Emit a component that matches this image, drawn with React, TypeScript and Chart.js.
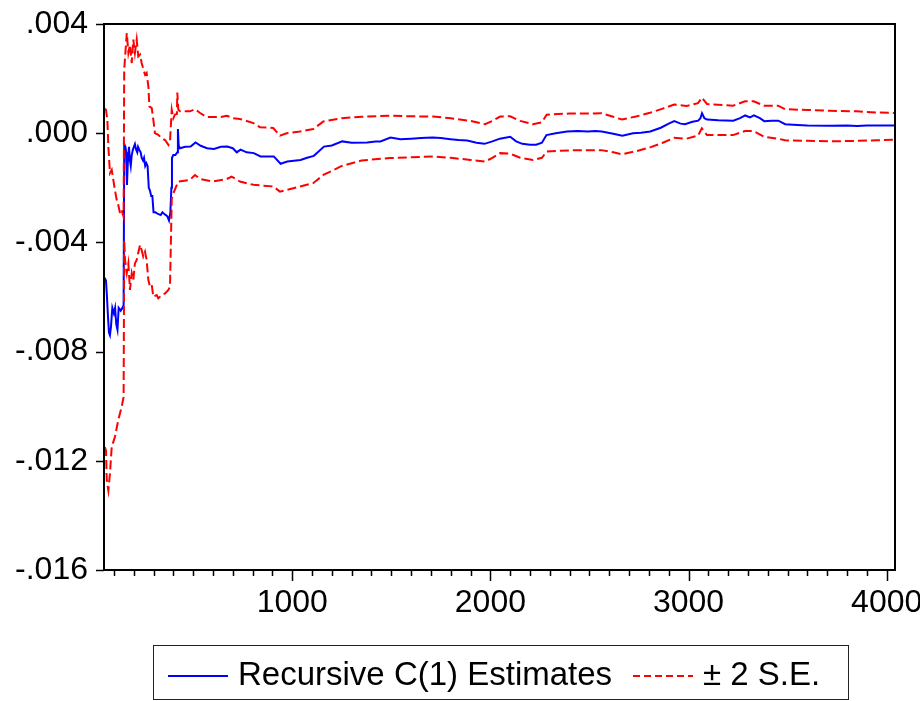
import { useEffect, useRef } from "react";
import { Chart, registerables } from "chart.js";
Chart.register(...registerables);

const xMin = 50;
const xMax = 4042;
const yMin = -0.016;
const yMax = 0.004;
const yTicks = [-0.016, -0.012, -0.008, -0.004, 0, 0.004];
const xMajorTicks = [1000, 2000, 3000, 4000];
const xMinorStep = 100;
const legendLabels = ["Recursive C(1) Estimates", "\u00B1 2 S.E."];

const estObs = [54, 60, 65, 70, 75, 80, 85, 92, 100, 106, 112, 118, 124, 134, 143, 149, 152, 158, 162, 166, 170, 176, 181, 185, 190, 196, 201, 206, 212, 218, 222, 228, 235, 240, 247, 252, 258, 264, 270, 276, 282, 288, 294, 300, 310, 320, 336, 345, 353, 362, 370, 378, 385, 390, 393, 400, 410, 420, 423, 427, 433, 460, 487, 512, 538, 570, 605, 640, 672, 700, 720, 739, 770, 806, 840, 875, 907, 941, 975, 1042, 1075, 1109, 1160, 1200, 1252, 1300, 1378, 1420, 1445, 1496, 1546, 1600, 1650, 1708, 1750, 1798, 1840, 1883, 1930, 1970, 2010, 2048, 2100, 2130, 2161, 2200, 2231, 2260, 2283, 2330, 2387, 2440, 2492, 2530, 2562, 2620, 2666, 2720, 2760, 2807, 2860, 2900, 2928, 2960, 2982, 3020, 3049, 3060, 3068, 3080, 3094, 3150, 3226, 3260, 3286, 3310, 3330, 3360, 3382, 3420, 3453, 3488, 3550, 3600, 3715, 3800, 3850, 3900, 3950, 4000, 4042];
const estVal = [-0.0053, -0.0054, -0.006, -0.0067, -0.0073, -0.0074, -0.0071, -0.0064, -0.0066, -0.0064, -0.007, -0.0072, -0.0064, -0.0065, -0.0064, -0.0063, -0.0004, -0.0005, -0.0007, -0.0019, -0.0011, -0.0005, -0.001, -0.0012, -0.0008, -0.0006, -0.0005, -0.0004, -0.0006, -0.0007, -0.0005, -0.0006, -0.0007, -0.0009, -0.001, -0.0009, -0.0012, -0.0011, -0.0012, -0.002, -0.0021, -0.0023, -0.0023, -0.0029, -0.0029, -0.00295, -0.003, -0.0029, -0.00295, -0.003, -0.00305, -0.0032, -0.0029, -0.002, -0.0009, -0.0008, -0.0008, -0.0007, 0.00015, -0.00045, -0.00055, -0.0005, -0.00049, -0.00034, -0.00046, -0.00055, -0.00058, -0.0005, -0.00049, -0.00055, -0.0007, -0.0006, -0.0007, -0.00073, -0.00085, -0.00085, -0.00085, -0.00112, -0.00104, -0.00098, -0.0009, -0.00083, -0.00049, -0.00045, -0.0003, -0.00035, -0.00034, -0.0003, -0.0003, -0.00016, -0.00022, -0.0002, -0.00018, -0.00016, -0.00018, -0.00022, -0.00025, -0.00027, -0.00035, -0.00039, -0.0003, -0.0002, -0.00013, -0.0003, -0.00039, -0.00042, -0.00042, -0.00035, -0.00007, 0.0, 0.00006, 0.00008, 0.00006, 0.00008, 0.00006, -0.00002, -0.00009, 0.0, 0.00002, 0.00006, 0.0002, 0.00035, 0.00044, 0.00035, 0.00033, 0.00042, 0.00046, 0.00055, 0.00073, 0.00055, 0.0005, 0.00047, 0.00046, 0.00055, 0.00065, 0.00058, 0.00065, 0.00055, 0.00044, 0.00046, 0.00046, 0.00033, 0.0003, 0.00028, 0.00027, 0.00028, 0.00026, 0.00028, 0.00028, 0.00028, 0.00028];

const upperObs = [54, 60, 67, 72, 80, 89, 97, 105, 114, 122, 131, 139, 149, 152, 165, 173, 181, 190, 198, 206, 215, 223, 232, 240, 257, 265, 274, 279, 291, 299, 307, 324, 341, 358, 375, 383, 392, 400, 408, 418, 420, 425, 434, 484, 509, 535, 568, 635, 669, 703, 736, 804, 837, 904, 938, 972, 1039, 1106, 1157, 1250, 1350, 1493, 1600, 1710, 1800, 1900, 1973, 2010, 2049, 2100, 2150, 2215, 2260, 2284, 2400, 2491, 2561, 2620, 2664, 2740, 2806, 2870, 2927, 2990, 3048, 3067, 3093, 3225, 3285, 3329, 3381, 3452, 3487, 3600, 3714, 3850, 3950, 4042];
const upperVal = [0.0009, 0.00086, 0.00049, -0.00049, -0.00146, -0.00134, -0.00171, -0.00208, -0.00244, -0.00263, -0.00293, -0.00281, -0.00306, 0.00233, 0.00367, 0.00294, 0.00324, 0.00257, 0.00343, 0.00294, 0.00343, 0.00281, 0.00288, 0.00257, 0.00214, 0.00221, 0.00171, 0.00098, 0.00092, 0.00049, 0.0, -0.00006, -0.00018, -0.00025, -0.00043, -0.0003, 0.00086, 0.00055, 0.00068, 0.0007, 0.00149, 0.00086, 0.0008, 0.0008, 0.00088, 0.00074, 0.00059, 0.00059, 0.00064, 0.00055, 0.00052, 0.00037, 0.00022, 0.00019, -0.00009, 0.0, 0.00006, 0.00015, 0.00043, 0.00055, 0.0006, 0.00064, 0.00062, 0.00061, 0.00055, 0.00045, 0.00033, 0.00045, 0.00061, 0.00062, 0.00045, 0.00033, 0.0004, 0.00068, 0.00072, 0.00072, 0.00073, 0.0006, 0.0005, 0.00062, 0.00075, 0.0009, 0.00105, 0.001, 0.0011, 0.0013, 0.00107, 0.00101, 0.00117, 0.00117, 0.00101, 0.00101, 0.00088, 0.00085, 0.00082, 0.0008, 0.00076, 0.00074];

const lowerObs = [54, 60, 64, 72, 80, 89, 105, 122, 139, 149, 152, 156, 165, 173, 181, 190, 198, 206, 215, 232, 240, 248, 257, 265, 274, 282, 291, 299, 316, 324, 341, 358, 375, 383, 392, 400, 425, 484, 509, 535, 600, 669, 694, 736, 804, 904, 938, 972, 1039, 1106, 1157, 1250, 1350, 1493, 1600, 1710, 1800, 1900, 1973, 2010, 2049, 2100, 2150, 2215, 2260, 2284, 2400, 2491, 2561, 2620, 2664, 2740, 2806, 2870, 2927, 2990, 3048, 3067, 3093, 3225, 3285, 3329, 3381, 3452, 3487, 3600, 3714, 3850, 3950, 4042];
const lowerVal = [-0.0115, -0.01162, -0.01272, -0.01309, -0.01247, -0.01149, -0.01113, -0.01051, -0.01003, -0.00966, -0.00391, -0.00464, -0.00513, -0.00477, -0.00574, -0.00513, -0.00538, -0.00477, -0.00464, -0.00409, -0.00428, -0.00452, -0.00434, -0.00464, -0.00538, -0.00562, -0.00556, -0.00599, -0.00593, -0.00605, -0.00593, -0.00587, -0.00574, -0.00562, -0.0024, -0.0022, -0.00177, -0.00171, -0.00153, -0.00168, -0.00177, -0.00168, -0.00159, -0.00177, -0.00189, -0.00195, -0.00214, -0.00208, -0.00195, -0.00183, -0.00153, -0.0012, -0.001, -0.00091, -0.00088, -0.00085, -0.0009, -0.00098, -0.00104, -0.0009, -0.00073, -0.00075, -0.0009, -0.00098, -0.0009, -0.00067, -0.00063, -0.00062, -0.00062, -0.0007, -0.00077, -0.00065, -0.00052, -0.00035, -0.00017, -0.0002, -0.00009, 0.00018, -0.00007, -0.00007, 0.00008, 0.00008, -0.00013, -0.0002, -0.00026, -0.00028, -0.0003, -0.00028, -0.00026, -0.00024];

const BLUE = "#0000FF";
const RED = "#FF0000";
const FONT = "'Liberation Sans', Arial, sans-serif";

function fmtY(v: number): string {
  const s = Math.abs(v).toFixed(3).replace(/^0/, "");
  return (v < -1e-9 ? "-" : "") + s;
}

const framePlugin = {
  id: "frame",
  afterDraw(chart: any) {
    const { ctx, chartArea } = chart;
    const xs = chart.scales.x;
    const ys = chart.scales.y;
    ctx.save();
    ctx.strokeStyle = "#000";
    ctx.lineWidth = 2;
    ctx.strokeRect(chartArea.left, chartArea.top, chartArea.right - chartArea.left, chartArea.bottom - chartArea.top);
    ctx.lineWidth = 1.5;
    ctx.beginPath();
    for (const t of yTicks) {
      const y = Math.round(ys.getPixelForValue(t)) + 0.5;
      ctx.moveTo(chartArea.left - 8, y);
      ctx.lineTo(chartArea.left, y);
    }
    for (let v = xMinorStep; v <= xMax; v += xMinorStep) {
      const x = Math.round(xs.getPixelForValue(v)) + 0.5;
      const len = xMajorTicks.includes(v) ? 11 : 6;
      ctx.moveTo(x, chartArea.bottom);
      ctx.lineTo(x, chartArea.bottom + len);
    }
    ctx.stroke();

    // legend
    const lx = 153.5, ly = 645.5, lw = 695, lh = 54;
    ctx.lineWidth = 1;
    ctx.strokeStyle = "#222";
    ctx.strokeRect(lx, ly, lw, lh);
    const cy = 676;
    ctx.lineWidth = 2;
    ctx.strokeStyle = BLUE;
    ctx.beginPath();
    ctx.moveTo(168, cy);
    ctx.lineTo(228, cy);
    ctx.stroke();
    ctx.strokeStyle = RED;
    ctx.setLineDash([7, 4]);
    ctx.beginPath();
    ctx.moveTo(633, cy);
    ctx.lineTo(693, cy);
    ctx.stroke();
    ctx.setLineDash([]);
    ctx.fillStyle = "#000";
    ctx.font = "33px " + FONT;
    ctx.textBaseline = "middle";
    ctx.textAlign = "left";
    ctx.fillText(legendLabels[0], 238, cy);
    ctx.fillText(legendLabels[1], 703, cy);
    ctx.restore();
  },
};

function zeroPad(s: any) {
  s.paddingTop = 0;
  s.paddingBottom = 0;
  s.paddingLeft = 0;
  s.paddingRight = 0;
}

export default function App() {
  const ref = useRef<HTMLCanvasElement>(null);
  useEffect(() => {
    const canvas = ref.current;
    if (!canvas) return;
    const mk = (xs: number[], vs: number[]) => xs.map((x, i) => ({ x, y: vs[i] }));
    const chart = new Chart(canvas, {
      type: "line",
      data: {
        datasets: [
          { label: legendLabels[1], data: mk(upperObs, upperVal), borderColor: RED, borderWidth: 2, borderDash: [9, 4], pointRadius: 0, fill: false, tension: 0 },
          { label: legendLabels[1], data: mk(lowerObs, lowerVal), borderColor: RED, borderWidth: 2, borderDash: [9, 4], pointRadius: 0, fill: false, tension: 0 },
          { label: legendLabels[0], data: mk(estObs, estVal), borderColor: BLUE, borderWidth: 2, pointRadius: 0, fill: false, tension: 0 },
        ],
      },
      options: {
        responsive: false,
        animation: false,
        events: [],
        layout: { padding: { top: 24, right: 25, left: 0, bottom: 0 } },
        plugins: { legend: { display: false }, tooltip: { enabled: false } },
        scales: {
          x: {
            type: "linear",
            min: xMin,
            max: xMax,
            grid: { display: false, drawTicks: false },
            border: { display: false },
            afterBuildTicks: (s: any) => {
              s.ticks = xMajorTicks.map((v) => ({ value: v }));
            },
            afterFit: (s: any) => {
              s.height = 131;
              zeroPad(s);
            },
            ticks: {
              autoSkip: false,
              maxRotation: 0,
              padding: 14,
              color: "#000",
              font: { family: FONT, size: 32 },
              callback: (v: any) => String(v),
            },
          },
          y: {
            type: "linear",
            min: yMin,
            max: yMax,
            grid: { display: false, drawTicks: false },
            border: { display: false },
            afterBuildTicks: (s: any) => {
              s.ticks = yTicks.map((v) => ({ value: v }));
            },
            afterFit: (s: any) => {
              s.width = 104;
              zeroPad(s);
            },
            ticks: {
              padding: 16,
              color: "#000",
              font: { family: FONT, size: 32 },
              callback: (v: any) => fmtY(Number(v)),
            },
          },
        },
      },
      plugins: [framePlugin],
    });
    return () => chart.destroy();
  }, []);
  return (
    <div style={{ position: "fixed", left: 0, top: 0, width: 920, height: 701, background: "#fff" }}>
      <canvas ref={ref} width={920} height={701} style={{ display: "block" }} />
    </div>
  );
}
